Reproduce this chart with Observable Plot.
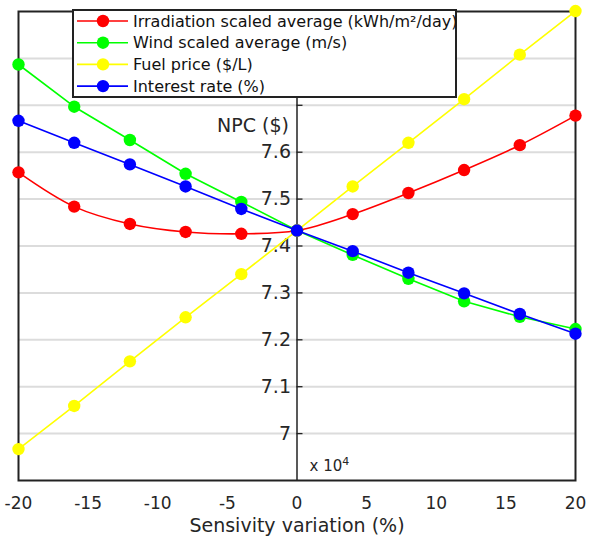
<!DOCTYPE html>
<html>
<head>
<meta charset="utf-8">
<script src="https://cdn.jsdelivr.net/npm/d3@7"></script>
<script src="https://cdn.jsdelivr.net/npm/@observablehq/plot@0.6"></script>
<style>
  html, body { margin: 0; padding: 0; background: white; }
  #chart { width: 589px; height: 542px; }
</style>
</head>
<body>
<div id="chart"></div>
<script>
// ---- data (NPC values in units of 10^4 $) ----
const variation = [-20, -16, -12, -8, -4, 0, 4, 8, 12, 16, 20];
const irradiation = [7.557, 7.484, 7.447, 7.430, 7.426, 7.433, 7.468, 7.513, 7.562, 7.615, 7.678];
const wind        = [7.787, 7.697, 7.626, 7.554, 7.494, 7.433, 7.381, 7.330, 7.282, 7.249, 7.223];
const fuel        = [6.967, 7.059, 7.154, 7.248, 7.340, 7.433, 7.527, 7.620, 7.713, 7.808, 7.901];
const interest    = [7.667, 7.620, 7.574, 7.527, 7.479, 7.433, 7.389, 7.343, 7.299, 7.255, 7.213];

const seriesNames = [
  "Irradiation scaled average (kWh/m²/day)",
  "Wind scaled average (m/s)",
  "Fuel price ($/L)",
  "Interest rate (%)"
];
const seriesColors = ["#ff0000", "#00ff00", "#ffff00", "#0000ff"];
const seriesValues = [irradiation, wind, fuel, interest];

const xTicks = [-20, -15, -10, -5, 0, 5, 10, 15, 20];
const yGrid = [7.0, 7.1, 7.2, 7.3, 7.4, 7.5, 7.6, 7.7, 7.8];
const yLabels = [7.0, 7.1, 7.2, 7.3, 7.4, 7.5, 7.6];
const yLabel = "NPC ($)";
const xLabel = "Sensivity variation (%)";
const exponentBase = "x 10";
const exponentPower = "4";

const rows = [];
seriesValues.forEach((vals, si) => {
  vals.forEach((v, i) => rows.push({series: seriesNames[si], x: variation[i], y: v}));
});

const lineMarks = [];
seriesNames.forEach((name, si) => {
  const d = rows.filter(r => r.series === name);
  lineMarks.push(Plot.line(d, {x: "x", y: "y", stroke: seriesColors[si], strokeWidth: 1.6, curve: si === 0 ? "catmull-rom" : "linear"}));
  lineMarks.push(Plot.dot(d, {x: "x", y: "y", fill: seriesColors[si], r: 6.2}));
});

const fontFamily = "'DejaVu Sans', Verdana, sans-serif";

const plot = Plot.plot({
  width: 589,
  height: 542,
  marginLeft: 18,
  marginRight: 14,
  marginTop: 11,
  marginBottom: 62,
  style: {fontFamily, background: "white", overflow: "visible"},
  x: {domain: [-20, 20]},
  y: {domain: [6.9, 7.9], axis: null},
  marks: [
    Plot.ruleY(yGrid, {y: d => d, stroke: "#dcdcdc", strokeWidth: 2}),
    Plot.ruleX([0], {stroke: "#222", strokeWidth: 1.5}),
    Plot.ruleY(yGrid, {y: d => d, x1: 0, x2: 0.43, stroke: "#222", strokeWidth: 1.3}),
    Plot.text(yLabels, {x: 0, y: d => d, text: d => String(d), dx: -6, textAnchor: "end", fontSize: 19, fill: "#262626"}),
    Plot.text([yLabel], {x: 0, frameAnchor: "top", lineAnchor: "middle", dy: 114, dx: -8, textAnchor: "end", fontSize: 19, fill: "#262626"}),
    Plot.frame({stroke: "#222", strokeWidth: 2}),
    Plot.axisX(xTicks, {tickSize: 0, tickPadding: 16, fontSize: 17, label: null, tickFormat: d => String(d), fill: "#262626"}),
    Plot.text([xLabel], {frameAnchor: "bottom", lineAnchor: "middle", dy: 45, fontSize: 19, fill: "#262626"}),
    ...lineMarks
  ]
});

document.getElementById("chart").appendChild(plot);

const svg = d3.select(plot);
const sx = plot.scale("x");
const sy = plot.scale("y");

// ---- exponent label (x 10^4) near bottom of the zero axis ----
const ex = svg.append("text")
  .attr("x", sx.apply(0) + 13)
  .attr("y", sy.apply(sy.domain[0]) - 9)
  .attr("font-family", fontFamily).attr("font-size", 15).attr("fill", "#262626")
  .attr("text-anchor", "start");
ex.append("tspan").text(exponentBase);
ex.append("tspan").attr("dy", -6).attr("font-size", 11).text(exponentPower);

// ---- legend (inside plot, top) ----
const lg = svg.append("g").attr("font-family", fontFamily).attr("text-anchor", "start");
const box = {x: 73, y: 10, w: 383, h: 87};
lg.append("rect").attr("x", box.x).attr("y", box.y).attr("width", box.w).attr("height", box.h)
  .attr("fill", "white").attr("stroke", "#222").attr("stroke-width", 2);
seriesNames.forEach((name, i) => {
  const cy = 21 + i * 21.7;
  lg.append("line").attr("x1", 77).attr("x2", 128).attr("y1", cy).attr("y2", cy)
    .attr("stroke", seriesColors[i]).attr("stroke-width", 1.6);
  lg.append("circle").attr("cx", 103).attr("cy", cy).attr("r", 6.2).attr("fill", seriesColors[i]);
  lg.append("text").attr("x", 133).attr("y", cy).attr("dy", "0.35em").attr("text-anchor", "start")
    .attr("font-size", 16).attr("fill", "#111").text(name);
});
</script>
</body>
</html>
